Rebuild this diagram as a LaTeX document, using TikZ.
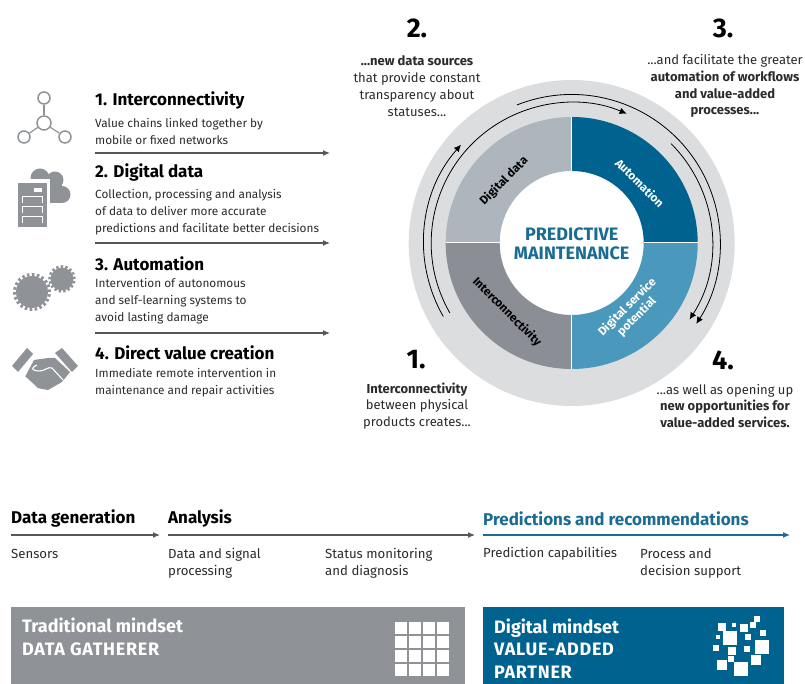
\documentclass[tikz,border=0pt]{standalone}
\usepackage{fontspec}
\usepackage{xcolor}
\setmainfont{Fira Sans}
\definecolor{ringgray}{HTML}{DCDDDF}
\definecolor{datagray}{HTML}{AEB6BD}
\definecolor{intergray}{HTML}{8B8F95}
\definecolor{autoblue}{HTML}{00628F}
\definecolor{servblue}{HTML}{4A98BC}
\definecolor{titleblue}{HTML}{1A6C93}
\definecolor{icongray}{HTML}{8F9398}
\definecolor{boxgray}{HTML}{8F9296}
\definecolor{rulegray}{HTML}{555759}
\definecolor{bodygray}{HTML}{2B2B2B}
\usetikzlibrary{arrows.meta}
\tikzset{
  headtext/.style={anchor=west,inner sep=0pt,font=\fontsize{17}{19}\selectfont\bfseries},
  bodytext/.style={anchor=west,inner sep=0pt,align=left,text=bodygray,font=\fontsize{11.8}{17}\selectfont},
  rowtext/.style={anchor=west,inner sep=0pt,align=left,text=bodygray,font=\fontsize{13.2}{17}\selectfont},
  stepnum/.style={inner sep=0pt,font=\fontsize{27}{30}\selectfont\bfseries},
  stepnote/.style={inner sep=0pt,align=center,text=bodygray,font=\fontsize{13}{16.8}\selectfont},
  ringtext/.style={inner sep=0pt,align=center,font=\fontsize{11.8}{13.5}\selectfont\bfseries},
  boxtext/.style={anchor=west,inner sep=0pt,align=left,text=white,font=\fontsize{18}{22.5}\selectfont\bfseries},
  rulearrow/.style={draw=rulegray,line width=1.2pt,-{Latex[length=7pt,width=6pt]}},
  cyclearrow/.style={draw=black,line width=0.8pt,-{Latex[length=7pt,width=6.5pt]}},
  netdot/.style={circle,draw=icongray,line width=1.5pt,inner sep=0pt},
}
\newcommand{\ringsector}[3]{%
  \fill[#1] (571.7,441)++(#2:126) arc[start angle=#2,end angle=#3,radius=126]
    -- ++(#3:-54) arc[start angle=#3,end angle=#2,radius=72] -- cycle;}
\newcommand{\chip}[3]{\fill[white] (#1-#3/2,684-#2-#3/2) rectangle ++(#3,#3);}
\newcommand{\capsp}[1]{{\addfontfeature{LetterSpace=4}#1}}
\begin{document}
\begin{tikzpicture}[x=1pt,y=1pt]
  \useasboundingbox (0,0) rectangle (805,684);
  % left column texts
  \node[headtext] (interhead) at (95,583) {1. Interconnectivity};
  \node[bodytext] (interbody) at (95,553) {Value chains linked together by\\mobile or fixed networks};
  \coordinate (rulea) at (95,531);
  \coordinate (ruleaend) at (330,531);
  \draw[rulearrow] (rulea) -- (ruleaend);
  \node[headtext] (datahead) at (95,511) {2. Digital data};
  \node[bodytext] (databody) at (95,472) {Collection, processing and analysis\\of data to deliver more accurate\\predictions and facilitate better decisions};
  \coordinate (ruleb) at (95,441);
  \coordinate (rulebend) at (330,441);
  \draw[rulearrow] (ruleb) -- (rulebend);
  \node[headtext] (autohead) at (95,420.5) {3. Automation};
  \node[bodytext] (autobody) at (95,383) {Intervention of autonomous\\and self-learning systems to\\avoid lasting damage};
  \coordinate (rulec) at (95,351);
  \coordinate (rulecend) at (330,351);
  \draw[rulearrow] (rulec) -- (rulecend);
  \node[headtext] (valuehead) at (95,331.5) {4. Direct value creation};
  \node[bodytext] (valuebody) at (95,301) {Immediate remote intervention in\\maintenance and repair activities};
  % network icon
  \node[netdot,minimum size=12pt] (nettop) at (44,586) {};
  \node[netdot,minimum size=14pt] (netmid) at (44,561) {};
  \node[netdot,minimum size=12pt] (netleft) at (24,547) {};
  \node[netdot,minimum size=12pt] (netright) at (65,547) {};
  \draw[icongray,line width=1.2pt] (nettop) -- (netmid);
  \draw[icongray,line width=1.2pt] (netleft) -- (netmid);
  \draw[icongray,line width=1.2pt] (netright) -- (netmid);
  % cloud and server icon
  \fill[icongray] (40,506) circle (9.5);
  \fill[icongray] (55,504) circle (8.5);
  \fill[icongray] (62,489.5) circle (8.5);
  \fill[icongray] (35,481) rectangle (62,504);
  \fill[white] (15,455) rectangle (50,505);
  \fill[icongray] (18,457) rectangle (47,501);
  \fill[white] (34,492) rectangle (42,496);
  \draw[white,line width=1pt] (22,481) |- (42,487) -- (42,481)
    (22,471) |- (42,477) -- (42,471)
    (22,461) |- (42,467) -- (42,461);
  % gears icon
  \fill[icongray] (32,392) circle (16);
  \draw[icongray,line width=3pt,dash pattern=on 2.6pt off 2.4pt] (32,392) circle (17.5);
  \fill[icongray] (62,405) circle (11.5);
  \draw[icongray,line width=2.6pt,dash pattern=on 2.4pt off 2.2pt] (62,405) circle (12.5);
  % handshake icon
  \fill[icongray] (12,318) -- (27,336) -- (33,330) -- (18,312) -- cycle;
  \fill[icongray] (55,331) -- (62,336) -- (78,318) -- (72,312) -- cycle;
  \fill[icongray] (34,324) -- (48,326) -- (55,326) -- (70,312) -- (62,302) -- (48,294) -- (37,296) -- (25,307) -- cycle;
  \draw[white,line width=1.1pt] (37,319) .. controls (31,316) and (31,314) .. (38,313)
    .. controls (44,312) and (48,318) .. (52,316) -- (63,304);
  \draw[white,line width=1.1pt] (25,307) -- (37,296);
  % ring
  \fill[ringgray] (571.7,441) circle (163);
  \fill[white] (571.7,441) circle (73);
  \ringsector{autoblue}{0}{90}
  \ringsector{datagray}{90}{180}
  \ringsector{intergray}{180}{270}
  \ringsector{servblue}{270}{360}
  \draw[white,line width=1pt] (445.7,441) -- (499.7,441) (643.7,441) -- (697.7,441)
    (571.7,315) -- (571.7,369) (571.7,513) -- (571.7,567);
  \node[ringtext,rotate=45] (ringdata) at (504,503) {Digital data};
  \node[ringtext,rotate=-45,text=white] (ringauto) at (640,501) {Automation};
  \node[ringtext,rotate=-45] (ringinter) at (507,372) {Interconnectivity};
  \node[ringtext,rotate=45,text=white] (ringserv) at (632,372) {Digital service\\potential};
  \node[inner sep=0pt,align=center,text=titleblue,font=\fontsize{18}{19}\selectfont\bfseries] (ringtitle) at (571.7,440) {PREDICTIVE\\MAINTENANCE};
  % cycle arrows
  \draw[cyclearrow] (571.7,441)++(209.8:148) arc[start angle=209.8,end angle=138.4,radius=148];
  \draw[cyclearrow] (571.7,441)++(209.9:140.5) arc[start angle=209.9,end angle=67,radius=140.5];
  \draw[cyclearrow] (571.7,441)++(111.7:148.5) arc[start angle=111.7,end angle=-33,radius=148.5];
  \draw[cyclearrow] (571.7,441)++(45:140.5) arc[start angle=45,end angle=-33,radius=140.5];
  % step notes
  \node[stepnum] (numtwo) at (417,656) {2.};
  \node[stepnote] (notetwo) at (417,598) {\textbf{...new data sources}\\that provide constant\\transparency about\\statuses...};
  \node[stepnum] (numthree) at (723,656) {3.};
  \node[stepnote] (notethree) at (725,598) {...and facilitate the greater\\\textbf{automation of workflows}\\\textbf{and value-added}\\\textbf{processes...}};
  \node[stepnum] (numone) at (416,324) {1.};
  \node[stepnote] (noteone) at (417,278) {\textbf{Interconnectivity}\\between physical\\products creates...};
  \node[stepnum] (numfour) at (723,324) {4.};
  \node[stepnote] (notefour) at (725,278) {...as well as opening up\\\textbf{new opportunities for}\\\textbf{value-added services.}};
  % process row
  \node[headtext] (genhead) at (11,165.5) {Data generation};
  \coordinate (genrule) at (11,149);
  \coordinate (genruleend) at (160,149);
  \draw[rulearrow] (genrule) -- (genruleend);
  \node[rowtext] (sensors) at (11,130) {Sensors};
  \node[headtext] (anahead) at (168,165.5) {Analysis};
  \coordinate (anarule) at (168,149);
  \coordinate (anaruleend) at (475,149);
  \draw[rulearrow] (anarule) -- (anaruleend);
  \node[rowtext] (signal) at (168,120.5) {Data and signal\\processing};
  \node[rowtext] (status) at (325,120.5) {Status monitoring\\and diagnosis};
  \node[headtext,text=titleblue] (predhead) at (483,165.5) {Predictions and recommendations};
  \coordinate (predrule) at (483,149);
  \coordinate (predruleend) at (790,149);
  \draw[rulearrow,draw=titleblue] (predrule) -- (predruleend);
  \node[rowtext] (capab) at (483,130) {Prediction capabilities};
  \node[rowtext] (support) at (640,120.5) {Process and\\decision support};
  % mindset boxes
  \fill[boxgray] (11,0) rectangle (465,77);
  \fill[autoblue] (483,0) rectangle (784,77);
  \node[boxtext] (tradbox) at (22,47) {Traditional mindset\\\capsp{DATA GATHERER}};
  \node[boxtext] (digibox) at (494,35.5) {Digital mindset\\\capsp{VALUE-ADDED}\\\capsp{PARTNER}};
  \foreach \col in {0,1,2,3}
    \foreach \row in {0,1,2,3}
      \fill[white] (395+\col*14,8+\row*14) rectangle ++(12.4,12.4);
  \chip{722}{627}{8.7}\chip{734}{625}{4.7}\chip{744}{628}{8.7}\chip{753}{625}{6}\chip{757}{619}{6.7}
  \chip{763}{633}{6.7}\chip{730}{638}{14}\chip{718}{637}{4.7}\chip{748}{637}{6.7}\chip{716}{648}{6.7}
  \chip{762}{647}{14.7}\chip{732}{651}{8.3}\chip{747}{649}{6.7}\chip{756}{660}{10.7}\chip{722}{665}{10.7}
  \chip{731}{659}{6.7}\chip{741}{669}{14.7}
\end{tikzpicture}
\end{document}
